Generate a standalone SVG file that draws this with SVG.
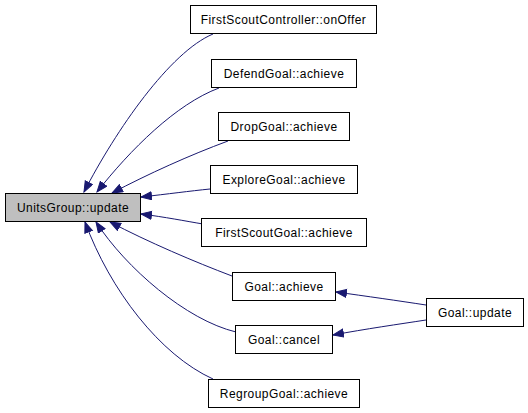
<svg xmlns="http://www.w3.org/2000/svg" width="528" height="413" viewBox="0 0 528 413">
<defs>
<style>
.n rect{fill:#fff;stroke:#000;stroke-width:1}
.n.cur rect{fill:#bfbfbf}
.n text{font-family:"Liberation Sans",Arial,sans-serif;font-size:12px;letter-spacing:0.45px;text-anchor:middle;fill:#000}
.e path{fill:none;stroke:#191970;stroke-width:1;marker-end:url(#ah)}
</style>
<marker id="ah" markerUnits="userSpaceOnUse" markerWidth="13" markerHeight="10" refX="11" refY="4.5" orient="auto">
<path d="M0.5,0.5 L11,4.5 L0.5,8.5 z" fill="#191970" stroke="#191970" stroke-width="1"/>
</marker>
</defs>
<rect width="528" height="413" fill="#fff"/>
<g id="edges" class="e">
<path d="M213,34 C170,52 116,130 84,192"/>
<path d="M219,88 C176,104 130,150 97,192"/>
<path d="M228,141 C190,155 148,174 112,193"/>
<path d="M210,189 C190,191 168,194 141,197"/>
<path d="M203,224 C185,221 165,217 141,214"/>
<path d="M232,276 C195,262 148,242 110,222"/>
<path d="M236,332 C186,320 126,268 96,222"/>
<path d="M213,379 C160,355 110,290 85,222"/>
<path d="M426,305 C400,301 365,296 336,292"/>
<path d="M426,320 C400,324 365,329 333,335"/>
</g>
<g id="UnitsGroup_update" class="n cur"><rect x="5.5" y="193.5" width="135" height="28"/><text x="73" y="212">UnitsGroup::update</text></g>
<g id="FirstScoutController_onOffer" class="n"><rect x="190.5" y="5.5" width="186" height="28"/><text x="283.5" y="24">FirstScoutController::onOffer</text></g>
<g id="DefendGoal_achieve" class="n"><rect x="211.5" y="59.5" width="145" height="28"/><text x="284" y="78">DefendGoal::achieve</text></g>
<g id="DropGoal_achieve" class="n"><rect x="218.5" y="112.5" width="131" height="28"/><text x="284" y="131">DropGoal::achieve</text></g>
<g id="ExploreGoal_achieve" class="n"><rect x="210.5" y="165.5" width="147" height="28"/><text x="284" y="184">ExploreGoal::achieve</text></g>
<g id="FirstScoutGoal_achieve" class="n"><rect x="201.5" y="218.5" width="165" height="28"/><text x="284" y="237">FirstScoutGoal::achieve</text></g>
<g id="Goal_achieve" class="n"><rect x="232.5" y="272.5" width="103" height="28"/><text x="284" y="291">Goal::achieve</text></g>
<g id="Goal_cancel" class="n"><rect x="235.5" y="325.5" width="97" height="28"/><text x="284" y="344">Goal::cancel</text></g>
<g id="RegroupGoal_achieve" class="n"><rect x="208.5" y="379.5" width="151" height="28"/><text x="284" y="398">RegroupGoal::achieve</text></g>
<g id="Goal_update" class="n"><rect x="426.5" y="298.5" width="97" height="28"/><text x="475" y="317">Goal::update</text></g>
</svg>
